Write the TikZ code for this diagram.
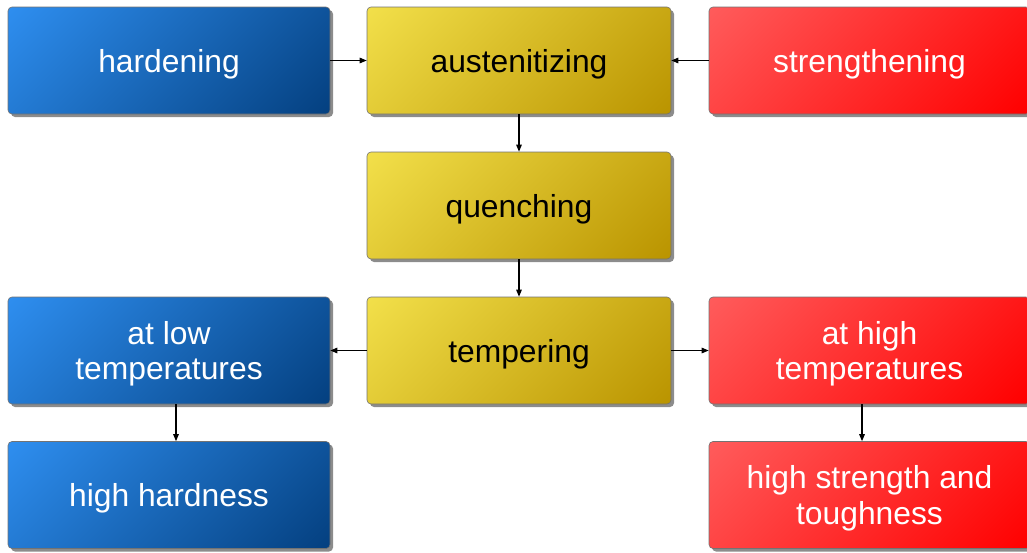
\documentclass[tikz,border=0pt]{standalone}
\usepackage{fontspec}
\setmainfont{Liberation Sans}
\usetikzlibrary{shadows,arrows.meta}
\definecolor{bluetop}{RGB}{52,153,255}
\definecolor{bluebot}{RGB}{4,64,128}
\definecolor{yeltop}{RGB}{250,234,84}
\definecolor{yelbot}{RGB}{186,148,0}
\definecolor{redtop}{RGB}{255,104,104}
\definecolor{redbot}{RGB}{255,0,0}
% smooth diagonal fills, spread over the whole box
\pgfdeclareverticalshading{blueshade}{100bp}{color(10bp)=(bluebot); color(90bp)=(bluetop)}
\pgfdeclareverticalshading{yelshade}{100bp}{color(10bp)=(yelbot); color(90bp)=(yeltop)}
\pgfdeclareverticalshading{redshade}{100bp}{color(10bp)=(redbot); color(90bp)=(redtop)}
\begin{document}
\begin{tikzpicture}[x=1pt,y=-1pt,
  box/.style={rectangle, rounded corners=4pt, draw=black!55, line width=0.6pt,
    minimum height=107pt, inner sep=0pt, align=center, text depth=0pt,
    font=\fontsize{31.8}{35.5}\selectfont,
    drop shadow={shadow xshift=3pt, shadow yshift=-3pt, fill=black!45, opacity=1}},
  bluebox/.style={box, minimum width=322pt, shading=blueshade, shading angle=45, text=white},
  yelbox/.style={box, minimum width=304pt, shading=yelshade, shading angle=45, text=black},
  redbox/.style={box, minimum width=321pt, shading=redshade, shading angle=45, text=white},
  arr/.style={line width=1.2pt, draw=black, -{Triangle[length=7pt,width=5.5pt]}}]
\useasboundingbox (0,0) rectangle (1027,552);
% left column
\node[bluebox] (hard) at (169,60.5) {hardening};
\node[bluebox] (low) at (169,350.5) {at low\\temperatures};
\node[bluebox] (lowres) at (169,495) {high hardness};
% middle column: the process steps
\node[yelbox] (aus) at (519,60.5) {austenitizing};
\node[yelbox] (quen) at (519,205.5) {quenching};
\node[yelbox] (temp) at (519,350.5) {tempering};
% right column
\node[redbox] (str) at (869.5,60.5) {strengthening};
\node[redbox] (high) at (869.5,350.5) {at high\\temperatures};
\node[redbox] (highres) at (869.5,495) {high strength and\\toughness};
% connectors
\draw[arr] (hard.east) -- (aus.west);
\draw[arr] (str.west) -- (aus.east);
\draw[arr] (aus.south) -- (quen.north);
\draw[arr] (quen.south) -- (temp.north);
\draw[arr] (temp.west) -- (low.east);
\draw[arr] (temp.east) -- (high.west);
\draw[arr] ([xshift=7pt]low.south) -- ([xshift=7pt]lowres.north);
\draw[arr] ([xshift=-7.5pt]high.south) -- ([xshift=-7.5pt]highres.north);
\end{tikzpicture}
\end{document}
